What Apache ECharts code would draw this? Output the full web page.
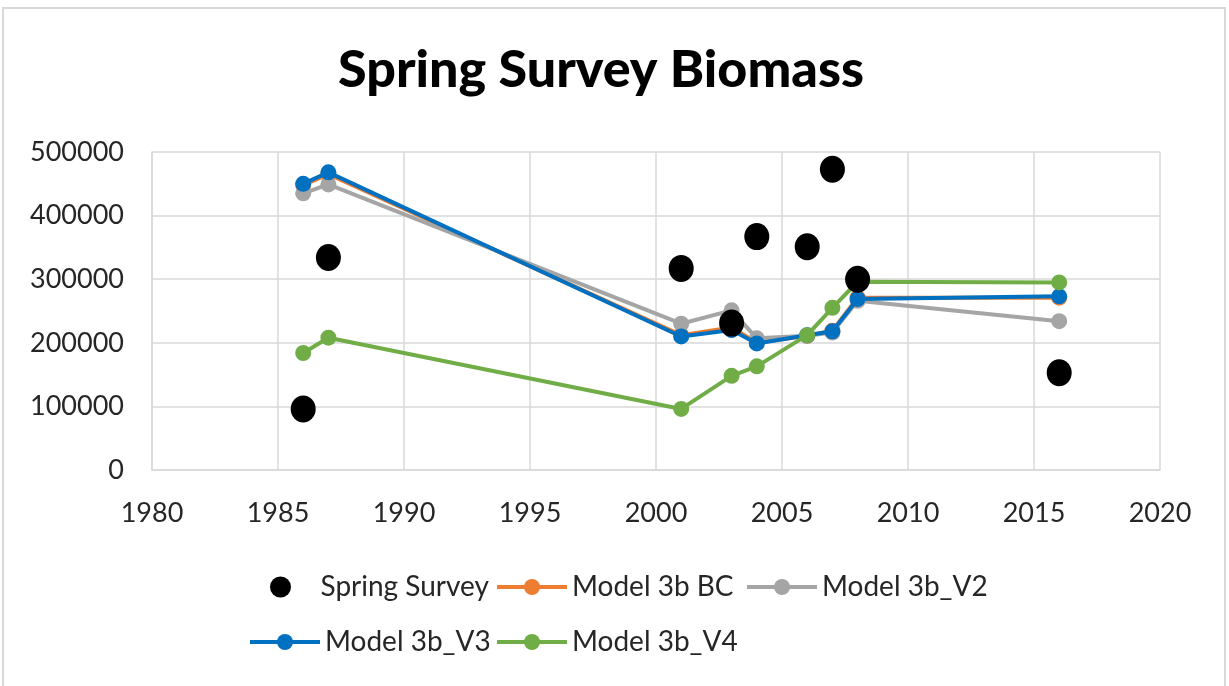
<!DOCTYPE html>
<html>
<head>
<meta charset="utf-8">
<script src="https://cdn.jsdelivr.net/npm/echarts@6/dist/echarts.min.js"></script>
<style>
  html, body { margin: 0; padding: 0; background: #fff; }
</style>
</head>
<body>
<div id="chart" style="width: 1229px; height: 686px;"></div>
<script>
// data
const years = [1986, 1987, 2001, 2003, 2004, 2006, 2007, 2008, 2016]
const springSurvey = [96000, 334000, 317000, 231000, 367000, 351000, 473000, 300000, 153000]
const model3bBC = [448000, 465000, 212000, 224000, 200000, 211000, 219000, 271000, 271000]
const model3bV2 = [435000, 449000, 230000, 251000, 207000, 211000, 216000, 266000, 234000]
const model3bV3 = [450000, 468000, 210000, 220000, 199000, 212000, 218000, 269000, 273000]
const model3bV4 = [184000, 208000, 96000, 148000, 163000, 212000, 255000, 296000, 295000]

const xTicks = { min: 1980, max: 2020, step: 5 }
const yTicks = { min: 0, max: 500000, step: 100000 }

const font = 'Lato'
const textColor = '#262626'
const gridColor = '#d9d9d9'

function pairs(values) {
  return years.map((y, i) => [y, values[i]])
}

function modelLine(name, values, color, z) {
  return {
    name: name,
    type: 'line',
    data: pairs(values),
    z: z,
    symbol: 'circle',
    symbolSize: 16,
    showAllSymbol: true,
    itemStyle: { color: color, opacity: 1 },
    lineStyle: { color: color, width: 4 },
    emphasis: { disabled: true }
  }
}

// one legend per entry so each can sit where the reference puts it
const legendSpots = [
  { name: 'Spring Survey', left: 270, top: 572, h: 21 },
  { name: 'Model 3b BC', left: 495, top: 572, h: 20 },
  { name: 'Model 3b_V2', left: 745, top: 572, h: 20 },
  { name: 'Model 3b_V3', left: 248, top: 627, h: 20 },
  { name: 'Model 3b_V4', left: 495, top: 627, h: 20 }
]

echarts.init(document.getElementById('chart')).setOption({
  backgroundColor: '#fff',
  animation: false,
  title: {
    text: 'Spring Survey Biomass',
    left: 596,
    top: 39,
    textAlign: 'center',
    textStyle: {
      fontFamily: font,
      fontWeight: 900,
      fontSize: 52,
      color: '#000'
    }
  },
  graphic: [{
    type: 'rect',
    shape: { x: 3, y: 8, width: 1222, height: 700 },
    style: { fill: 'none', stroke: gridColor, lineWidth: 2 },
    silent: true
  }],
  grid: {
    left: 152,
    right: 69,
    top: 152,
    bottom: 216
  },
  legend: legendSpots.map(s => ({
    data: [s.name],
    left: s.left,
    top: s.top,
    padding: 0,
    itemWidth: 70,
    itemHeight: s.h,
    itemGap: 0,
    selectedMode: false,
    lineStyle: { width: 4 },
    textStyle: {
      fontFamily: font,
      fontSize: 28,
      lineHeight: 30,
      color: textColor
    }
  })),
  xAxis: {
    type: 'value',
    min: xTicks.min,
    max: xTicks.max,
    interval: xTicks.step,
    axisLine: { show: true, lineStyle: { color: gridColor, width: 1.5 } },
    axisTick: { show: false },
    splitLine: { show: true, lineStyle: { color: gridColor, width: 1.5 } },
    axisLabel: {
      margin: 30,
      formatter: v => String(v),
      fontFamily: font,
      fontSize: 27,
      color: textColor
    }
  },
  yAxis: {
    type: 'value',
    min: yTicks.min,
    max: yTicks.max,
    interval: yTicks.step,
    axisLine: { show: true, lineStyle: { color: gridColor, width: 1.5 } },
    axisTick: { show: false },
    splitLine: { show: true, lineStyle: { color: gridColor, width: 1.5 } },
    axisLabel: {
      margin: 28,
      formatter: v => String(v),
      fontFamily: font,
      fontSize: 27,
      color: textColor
    }
  },
  series: [
    {
      name: 'Spring Survey',
      type: 'scatter',
      data: pairs(springSurvey),
      z: 10,
      symbol: 'circle',
      symbolSize: [25, 27],
      itemStyle: { color: '#000', opacity: 1 },
      emphasis: { disabled: true }
    },
    modelLine('Model 3b BC', model3bBC, '#ED7D31', 2),
    modelLine('Model 3b_V2', model3bV2, '#A5A5A5', 3),
    modelLine('Model 3b_V3', model3bV3, '#0070C0', 4),
    modelLine('Model 3b_V4', model3bV4, '#70AD47', 5)
  ]
})
</script>
</body>
</html>
